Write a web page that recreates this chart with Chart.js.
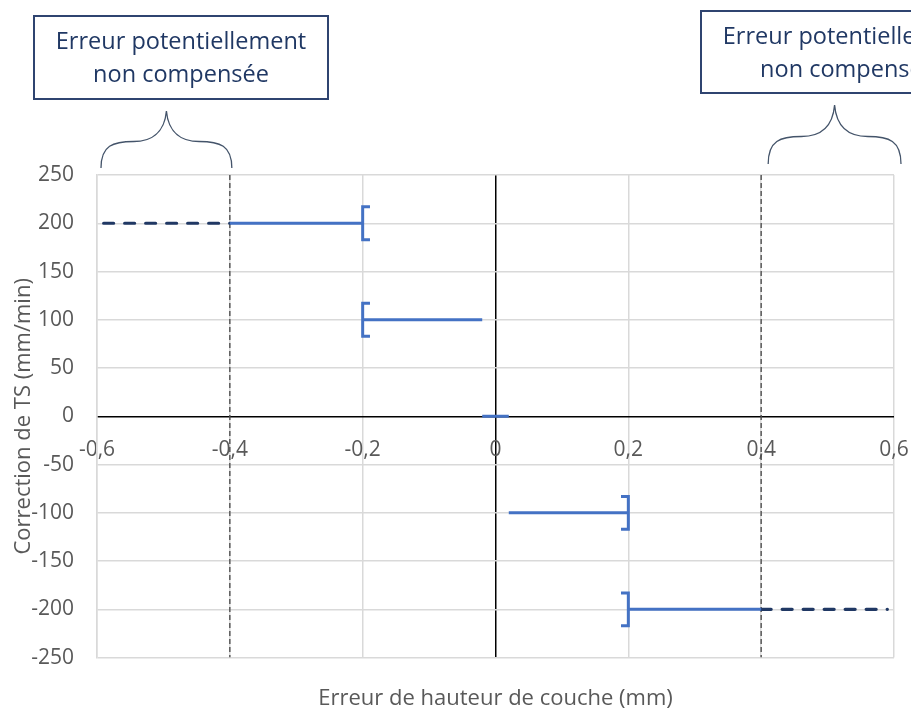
<!DOCTYPE html>
<html>
<head>
<meta charset="utf-8">
<script src="https://cdn.jsdelivr.net/npm/chart.js@4.4.1/dist/chart.umd.min.js"></script>
<style>
  html, body { margin: 0; padding: 0; background: #fff; }
  #wrap { width: 911px; height: 712px; }
</style>
</head>
<body>
<div id="wrap"><canvas id="chart"></canvas></div>
<script>
// axis ticks
const xTicks = [-0.6, -0.4, -0.2, 0, 0.2, 0.4, 0.6];
const yTicks = [-250, -200, -150, -100, -50, 0, 50, 100, 150, 200, 250];

// compensated error ranges, one per TS correction level
const tsCorrection = [200, 100, 0, -100, -200];
const errorFrom = [-0.4, -0.2, -0.02, 0.02, 0.2];
const errorTo = [-0.2, -0.02, 0.02, 0.2, 0.4];

// part that is potentially not compensated
const uncompY = [200, -200];
const uncompFrom = [-0.59, 0.4];
const uncompTo = [-0.4, 0.59];

// limit lines
const limitX = [-0.4, 0.4];

// bracket ends of the ranges (side: 1 opens right, -1 opens left)
const bracketX = [-0.2, -0.2, 0.2, 0.2];
const bracketY = [200, 100, -100, -200];
const bracketSide = [1, 1, -1, -1];

const noteLines = ["Erreur potentiellement", "non compensée"];

const FONT = "'Open Sans', sans-serif";
const BLUE = "#4472C4";
const NAVY = "#203864";
const TAB = 0.011;   // bracket tab length (x units)
const HALF = 17;     // bracket half height (y units)

const datasets = [];
tsCorrection.forEach((y, i) => {
  datasets.push({
    data: [{ x: errorFrom[i], y: y }, { x: errorTo[i], y: y }],
    borderColor: BLUE, borderWidth: 3, showLine: true, pointRadius: 0
  });
});
bracketX.forEach((x, i) => {
  const t = x + bracketSide[i] * TAB, y = bracketY[i];
  datasets.push({
    data: [{ x: t, y: y + HALF }, { x: x, y: y + HALF }, { x: x, y: y - HALF }, { x: t, y: y - HALF }],
    borderColor: BLUE, borderWidth: 3, showLine: true, pointRadius: 0, borderJoinStyle: "miter"
  });
});
uncompY.forEach((y, i) => {
  datasets.push({
    data: [{ x: uncompFrom[i], y: y }, { x: uncompTo[i], y: y }],
    borderColor: NAVY, borderWidth: 3.2, borderDash: [10, 11], borderCapStyle: "round",
    showLine: true, pointRadius: 0
  });
});
limitX.forEach(x => {
  datasets.push({
    data: [{ x: x, y: 250 }, { x: x, y: -250 }],
    borderColor: "#505050", borderWidth: 1.4, borderDash: [5, 3],
    showLine: true, pointRadius: 0
  });
});

function brace(ctx, x0, x1, yb, yt) {
  const xm = (x0 + x1) / 2, ymid = (yb + yt) / 2 + 2;
  ctx.beginPath();
  ctx.moveTo(x0, yb);
  ctx.bezierCurveTo(x0, ymid + 4, x0 + 12, ymid, x0 + (xm - x0) * 0.5, ymid);
  ctx.bezierCurveTo(xm - 16, ymid, xm - 2, ymid - 8, xm, yt);
  ctx.moveTo(x1, yb);
  ctx.bezierCurveTo(x1, ymid + 4, x1 - 12, ymid, x1 - (x1 - xm) * 0.5, ymid);
  ctx.bezierCurveTo(xm + 16, ymid, xm + 2, ymid - 8, xm, yt);
  ctx.stroke();
}

function note(ctx, x, y, w, h) {
  ctx.lineWidth = 2;
  ctx.strokeStyle = "#2F4470";
  ctx.strokeRect(x, y, w, h);
  ctx.fillStyle = NAVY;
  ctx.font = "23.5px " + FONT;
  ctx.textAlign = "center";
  ctx.textBaseline = "middle";
  ctx.fillText(noteLines[0], x + w / 2, y + 26);
  ctx.fillText(noteLines[1], x + w / 2, y + 59);
}

const annotations = {
  id: "annotations",
  afterDraw(chart) {
    const ctx = chart.ctx, xs = chart.scales.x, top = chart.chartArea.top;
    ctx.save();
    ctx.strokeStyle = "#44546A";
    ctx.lineWidth = 1.3;
    brace(ctx, xs.getPixelForValue(-0.6) + 4, xs.getPixelForValue(-0.4) + 2, top - 7, top - 64);
    brace(ctx, xs.getPixelForValue(0.4) + 7, xs.getPixelForValue(0.6) + 7, top - 11, top - 70);
    note(ctx, 34, 16, 294, 83);
    note(ctx, 701, 11, 294, 82);
    ctx.restore();
  }
};

const fmtX = v => (Math.abs(v) < 1e-9 ? "0" : v.toFixed(1).replace(".", ","));

new Chart(document.getElementById("chart"), {
  type: "scatter",
  data: { datasets: datasets },
  options: {
    responsive: true,
    maintainAspectRatio: false,
    animation: false,
    layout: { padding: { top: 175, right: 17, bottom: 0, left: 0 } },
    plugins: { legend: { display: false }, tooltip: { enabled: false } },
    scales: {
      x: {
        type: "linear",
        min: -0.6, max: 0.6,
        position: { y: 0 },
        afterBuildTicks: s => { s.ticks = xTicks.map(v => ({ value: v })); },
        afterFit: s => { s.paddingLeft = 0; s.paddingRight = 0; },
        grid: {
          drawTicks: false, lineWidth: 1.5,
          color: c => (c.tick && Math.abs(c.tick.value) < 1e-9 ? "#000" : "#d9d9d9")
        },
        border: { display: false },
        ticks: {
          callback: v => fmtX(v), color: "#595959", padding: 21,
          maxRotation: 0, autoSkip: false,
          font: { family: FONT, size: 21 }
        }
      },
      x2: {
        type: "linear", position: "bottom", min: -0.6, max: 0.6,
        grid: { display: false, drawTicks: false },
        border: { display: false },
        ticks: { display: false },
        afterFit: s => { s.paddingLeft = 0; s.paddingRight = 0; },
        title: {
          display: true, text: "Erreur de hauteur de couche (mm)",
          color: "#595959", font: { family: FONT, size: 22 }, padding: { top: 28, bottom: 0 }
        }
      },
      y: {
        type: "linear",
        min: -250, max: 250,
        afterBuildTicks: s => { s.ticks = yTicks.map(v => ({ value: v })); },
        afterFit: s => { s.width = 97; },
        grid: {
          drawTicks: false, lineWidth: 1.5,
          color: c => (c.tick && c.tick.value === 0 ? "#000" : "#d9d9d9")
        },
        border: { color: "#d9d9d9", width: 1.5 },
        ticks: {
          color: "#595959", padding: 23,
          font: { family: FONT, size: 21 }
        },
        title: {
          display: true, text: "Correction de TS (mm/min)",
          color: "#595959", font: { family: FONT, size: 22, lineHeight: 1 }, padding: { top: 13, bottom: 0 }
        }
      }
    }
  },
  plugins: [annotations]
});
</script>
</body>
</html>
